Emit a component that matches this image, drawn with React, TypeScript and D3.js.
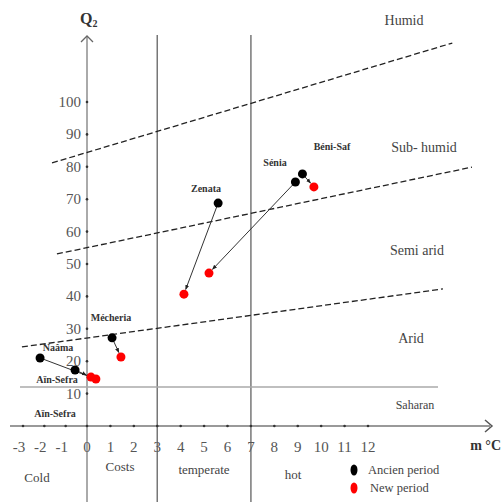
import React, { useRef, useEffect } from 'react';
import * as d3 from 'd3';

// stations, ancient period (black) and new period (red): m in °C, Q2
const stations = ['Zenata', 'Sénia', 'Béni-Saf', 'Mécheria', 'Naâma', 'Aïn-Sefra'];
const ancienM = [5.6, 8.9, 9.2, 1.07, -2.2, -0.56];
const ancienQ = [68.8, 75.3, 77.8, 27.2, 21, 17.3];
const newM = [4.14, 5.21, 9.69, 1.45, 0.38, 0.17];
const newQ = [40.7, 47.2, 73.8, 21.3, 14.5, 15.1];

// bioclimatic boundaries (m, Q2)
const humidLine = [[-1.64, 81.2], [15.6, 118.2]];
const subHumidLine = [[-1.41, 53.1], [16.44, 79.9]];
const semiAridLine = [[-3.05, 24.4], [15.2, 42.3]];
const saharanLine = [[-3.14, 12], [14.99, 12]];
const winterLimits = [3, 7];

const xTicks = d3.range(-3, 13);
const yTicks = d3.range(10, 101, 10);

const zones = ['Humid', 'Sub- humid', 'Semi arid', 'Arid', 'Saharan'];
const winters = ['Cold', 'Costs', 'temperate', 'hot'];
const legendItems = ['Ancien period', 'New period'];

const App = () => {
    const svgRef = useRef(null);

    useEffect(() => {
        const w = 502;
        const h = 502;
        const svg = d3.select(svgRef.current)
            .attr('width', w)
            .attr('height', h)
            .style('font-family', '"Liberation Serif", "Times New Roman", serif');
        svg.selectAll('*').remove();

        // the drawing is not quite linear left of zero
        const x = d3.scaleLinear().domain([-3, 0, 12]).range([23, 87, 368]);
        const y = d3.scaleLinear().domain([0, 100]).range([426, 102]);

        const defs = svg.append('defs');
        defs.append('marker')
            .attr('id', 'arr')
            .attr('viewBox', '0 0 10 10')
            .attr('refX', 9).attr('refY', 5)
            .attr('markerWidth', 5).attr('markerHeight', 5)
            .attr('orient', 'auto')
            .append('path').attr('d', 'M0,1 L10,5 L0,9 z').attr('fill', '#222');

        // vertical winter limits
        svg.selectAll('.vlim')
            .data(winterLimits)
            .join('line')
            .attr('x1', d => x(d)).attr('x2', d => x(d))
            .attr('y1', y(120.7)).attr('y2', h)
            .attr('stroke', '#777').attr('stroke-width', 1.5);

        // saharan limit
        svg.append('line')
            .attr('x1', x(saharanLine[0][0])).attr('y1', y(saharanLine[0][1]))
            .attr('x2', x(saharanLine[1][0])).attr('y2', y(saharanLine[1][1]))
            .attr('stroke', '#aaa').attr('stroke-width', 1.5);

        // axes
        svg.append('line')
            .attr('x1', 10).attr('x2', 490)
            .attr('y1', y(0)).attr('y2', y(0))
            .attr('stroke', '#999').attr('stroke-width', 2);
        svg.append('path')
            .attr('d', `M485,${y(0) - 6} L492,${y(0)} L485,${y(0) + 6}`)
            .attr('fill', 'none').attr('stroke', '#555').attr('stroke-width', 1.5);
        svg.append('line')
            .attr('x1', x(0)).attr('x2', x(0))
            .attr('y1', h).attr('y2', 37)
            .attr('stroke', '#aaa').attr('stroke-width', 2);
        svg.append('path')
            .attr('d', `M${x(0) - 6},42 L${x(0)},36 L${x(0) + 6},42`)
            .attr('fill', 'none').attr('stroke', '#666').attr('stroke-width', 1.3);

        svg.selectAll('.xt')
            .data(xTicks)
            .join('circle')
            .attr('cx', d => x(d)).attr('cy', y(0)).attr('r', 1.3)
            .attr('fill', '#333');
        svg.selectAll('.xl')
            .data(xTicks)
            .join('text')
            .attr('x', d => x(d) - (d < 0 ? 4 : 0))
            .attr('y', 452)
            .attr('text-anchor', 'middle')
            .attr('font-size', 15)
            .attr('fill', '#555')
            .text(d => String(d));

        svg.selectAll('.yt')
            .data(yTicks)
            .join('circle')
            .attr('cx', x(0)).attr('cy', d => y(d)).attr('r', 1.3)
            .attr('fill', '#333');
        svg.selectAll('.yl')
            .data(yTicks)
            .join('text')
            .attr('x', 81)
            .attr('y', d => y(d) + 5)
            .attr('text-anchor', 'end')
            .attr('font-size', 15)
            .attr('fill', '#555')
            .text(d => String(d));

        const q = svg.append('text')
            .attr('x', 80).attr('y', 24)
            .attr('font-size', 16).attr('font-weight', 'bold').attr('fill', '#333');
        q.append('tspan').text('Q');
        q.append('tspan').attr('font-size', 10).attr('dy', 3).text('2');

        svg.append('text')
            .attr('x', 501).attr('y', 450)
            .attr('text-anchor', 'end')
            .attr('font-size', 14).attr('font-weight', 'bold').attr('fill', '#333')
            .text('m °C');

        // dashed bioclimatic boundaries
        const lineGen = d3.line().x(d => x(d[0])).y(d => y(d[1]));
        svg.selectAll('.bound')
            .data([humidLine, subHumidLine, semiAridLine])
            .join('path')
            .attr('d', d => lineGen(d))
            .attr('fill', 'none')
            .attr('stroke', '#222')
            .attr('stroke-width', 1.3)
            .attr('stroke-dasharray', '6,3');

        // zone names
        const zonePos = [[404, 25], [424, 152], [417, 255], [411, 343], [415, 409]];
        const zoneSize = [14, 14, 14, 14, 12];
        svg.selectAll('.zone')
            .data(zones)
            .join('text')
            .attr('x', (d, i) => zonePos[i][0])
            .attr('y', (d, i) => zonePos[i][1])
            .attr('text-anchor', 'middle')
            .attr('font-size', (d, i) => zoneSize[i])
            .attr('fill', '#444')
            .text(d => d);

        // winter types
        const winterPos = [[37, 482], [120, 471], [204, 474], [293, 479]];
        svg.selectAll('.winter')
            .data(winters)
            .join('text')
            .attr('x', (d, i) => winterPos[i][0])
            .attr('y', (d, i) => winterPos[i][1])
            .attr('text-anchor', 'middle')
            .attr('font-size', 13)
            .attr('fill', '#444')
            .text(d => d);

        // arrows from ancien to new period
        const idx = d3.range(stations.length);
        svg.selectAll('.move')
            .data(idx)
            .join('line')
            .each(function (i) {
                const x1 = x(ancienM[i]), y1 = y(ancienQ[i]);
                const x2 = x(newM[i]), y2 = y(newQ[i]);
                const len = Math.hypot(x2 - x1, y2 - y1);
                const k = Math.max(0, (len - 5) / len);
                d3.select(this)
                    .attr('x1', x1).attr('y1', y1)
                    .attr('x2', x1 + (x2 - x1) * k).attr('y2', y1 + (y2 - y1) * k);
            })
            .attr('stroke', '#333')
            .attr('stroke-width', 1)
            .attr('marker-end', 'url(#arr)');

        svg.selectAll('.ancien')
            .data(idx)
            .join('ellipse')
            .attr('cx', i => x(ancienM[i])).attr('cy', i => y(ancienQ[i]))
            .attr('rx', 4.5).attr('ry', 4.5)
            .attr('fill', '#000');
        svg.selectAll('.new')
            .data(idx)
            .join('ellipse')
            .attr('cx', i => x(newM[i])).attr('cy', i => y(newQ[i]))
            .attr('rx', 4.5).attr('ry', 4.5)
            .attr('fill', '#f00');

        // station names
        const labelPos = [[206, 192], [275, 166], [332, 150], [111, 321], [58, 351], [57, 383]];
        svg.selectAll('.st')
            .data(stations)
            .join('text')
            .attr('x', (d, i) => labelPos[i][0])
            .attr('y', (d, i) => labelPos[i][1])
            .attr('text-anchor', 'middle')
            .attr('font-size', 10)
            .attr('font-weight', 'bold')
            .attr('fill', '#333')
            .text(d => d);
        svg.append('text')
            .attr('x', 55).attr('y', 417)
            .attr('text-anchor', 'middle')
            .attr('font-size', 10).attr('font-weight', 'bold').attr('fill', '#333')
            .text('Aïn-Sefra');

        // legend
        const lg = svg.append('g');
        lg.selectAll('ellipse')
            .data(legendItems)
            .join('ellipse')
            .attr('cx', 354).attr('cy', (d, i) => 470 + i * 18)
            .attr('rx', 3.5).attr('ry', 5.5)
            .attr('fill', (d, i) => (i === 0 ? '#000' : '#f00'));
        lg.selectAll('text')
            .data(legendItems)
            .join('text')
            .attr('x', (d, i) => 368 + i * 2).attr('y', (d, i) => 474 + i * 18)
            .attr('font-size', 12.5)
            .attr('fill', '#444')
            .text(d => d);
    }, []);

    return (
        <div style={{ position: 'absolute', left: 0, top: 0 }}>
            <svg ref={svgRef}></svg>
        </div>
    );
};

export default App;
